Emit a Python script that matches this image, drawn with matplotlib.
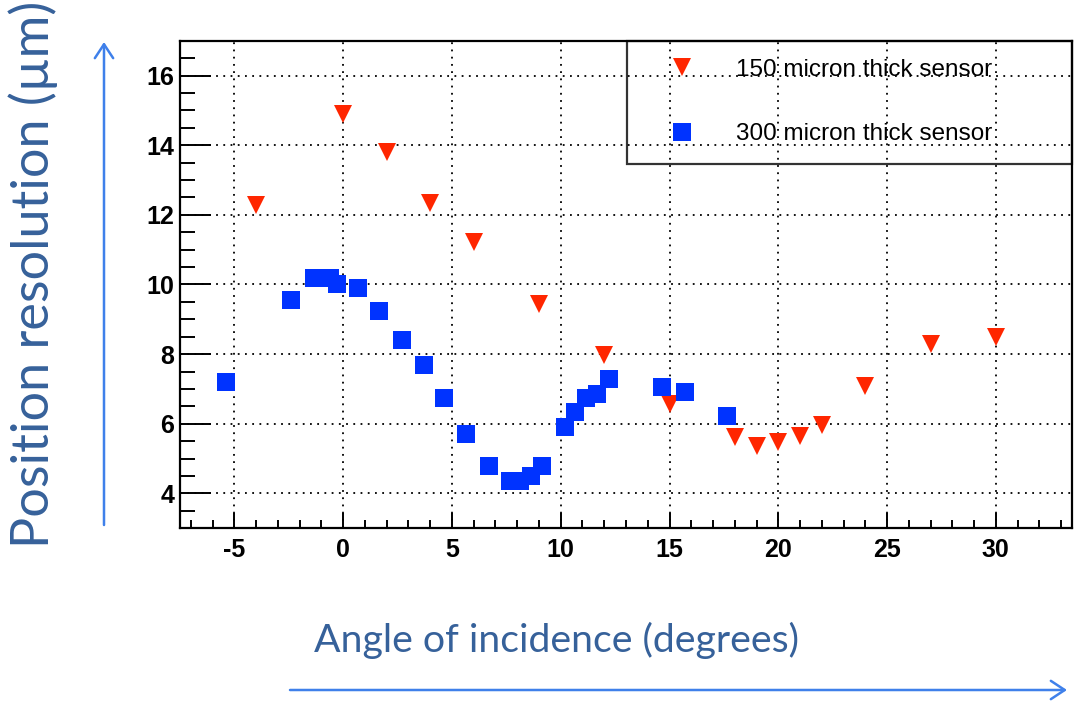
import matplotlib
import numpy as np

matplotlib.use("Agg")
import matplotlib.pyplot as plt
from matplotlib.ticker import MultipleLocator

plt.rcParams["axes.unicode_minus"] = False

# Angle of incidence (degrees) vs position resolution (um)
angle_150 = [-4, 0, 2, 4, 6, 9, 12, 15, 18, 19, 20, 21, 22, 24, 27, 30]
res_150 = [12.28, 14.9, 13.8, 12.35, 11.23, 9.45, 7.97, 6.58, 5.62, 5.35,
           5.47, 5.65, 5.98, 7.08, 8.3, 8.5]

angle_300 = [-5.4, -2.4, -1.35, -0.6, -0.3, 0.7, 1.65, 2.7, 3.7, 4.65, 5.65,
             6.7, 7.65, 8.15, 8.65, 9.15, 10.2, 10.65, 11.15, 11.65, 12.2,
             14.65, 15.7, 17.65]
res_300 = [7.2, 9.55, 10.2, 10.2, 10.0, 9.9, 9.25, 8.4, 7.7, 6.75, 5.7,
           4.8, 4.35, 4.35, 4.5, 4.8, 5.9, 6.35, 6.75, 6.85, 7.3,
           7.05, 6.9, 6.22]

labels = ["150 micron thick sensor", "300 micron thick sensor"]

RED = "#ff2600"
BLUE = "#0033ff"
TEXT_BLUE = "#36619a"
ARROW_BLUE = "#3f80ea"

fig = plt.figure(figsize=(10.76, 7.07), dpi=100)
ax = fig.add_axes([180 / 1076, 1 - 528.3 / 707, 892 / 1076, 487.6 / 707])

ax.plot(angle_150, res_150, linestyle="none", marker="v", ms=13, mew=0,
        color=RED, label=labels[0], zorder=3)
ax.plot(angle_300, res_300, linestyle="none", marker="s", ms=13, mew=0,
        color=BLUE, label=labels[1], zorder=3)

ax.set_xlim(-7.5, 33.5)
ax.set_ylim(3.0, 17.0)
ax.xaxis.set_major_locator(MultipleLocator(5))
ax.xaxis.set_minor_locator(MultipleLocator(1))
ax.yaxis.set_major_locator(MultipleLocator(2))
ax.yaxis.set_minor_locator(MultipleLocator(0.5))

# ROOT-like inward ticks, only on left/bottom
ax.tick_params(axis="x", which="major", direction="in", length=11, width=1.4, pad=7)
ax.tick_params(axis="x", which="minor", direction="in", length=6, width=1.4)
ax.tick_params(axis="y", which="major", direction="in", length=22, width=1.4, pad=4)
ax.tick_params(axis="y", which="minor", direction="in", length=11, width=1.4)
for lab in ax.get_xticklabels() + ax.get_yticklabels():
    lab.set_fontfamily("Liberation Sans")
    lab.set_fontweight("bold")
    lab.set_fontsize(18)

for sp in ax.spines.values():
    sp.set_linewidth(1.6)

ax.grid(True, which="major", color="black", linestyle=(0, (1, 3)), linewidth=1.3)
ax.set_axisbelow(True)

leg = ax.legend(loc="upper left", bbox_to_anchor=(0.501, 0.0, 0.499, 1.0),
                mode="expand", borderaxespad=0, fancybox=False,
                facecolor="none", edgecolor="black", framealpha=None,
                prop={"family": "Liberation Sans", "size": 17.5},
                borderpad=0.75, labelspacing=1.75, handlelength=3.0,
                handletextpad=0.75)
leg.get_frame().set_linewidth(1.6)

fig.text(33 / 1076, 1 - 274 / 707, "Position resolution (µm)", rotation=90,
         ha="center", va="center", fontsize=37.5, color=TEXT_BLUE,
         family=["Lato", "DejaVu Sans"])
fig.text(557 / 1076, 1 - 640 / 707, "Angle of incidence (degrees)",
         ha="center", va="center", fontsize=28.3, color=TEXT_BLUE,
         family=["Lato", "DejaVu Sans"])

arrow = dict(arrowstyle="->,head_length=0.5,head_width=0.33", color=ARROW_BLUE,
             lw=1.8, mutation_scale=20, shrinkA=0, shrinkB=0)
fig.add_artist(matplotlib.patches.FancyArrowPatch(
    (104 / 1076, 1 - 525 / 707), (104 / 1076, 1 - 42 / 707),
    transform=fig.transFigure, **arrow))
fig.add_artist(matplotlib.patches.FancyArrowPatch(
    (290 / 1076, 1 - 690 / 707), (1067 / 1076, 1 - 690 / 707),
    transform=fig.transFigure, **arrow))

fig.savefig("out.png", dpi=100)
